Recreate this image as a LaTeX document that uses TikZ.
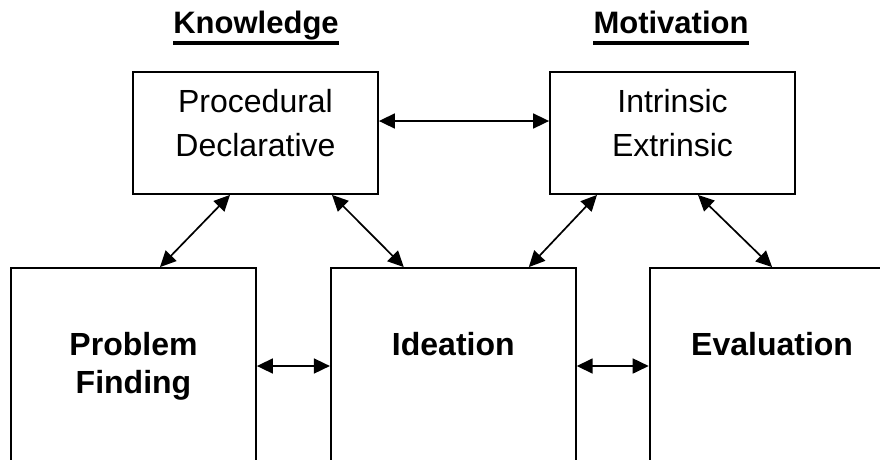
\documentclass[tikz,border=0pt]{standalone}
\usepackage{fontspec}
\setmainfont{Liberation Sans}
\usetikzlibrary{arrows.meta,positioning}

\tikzset{
  box/.style={draw, line width=1.8pt, minimum width=245pt, minimum height=122pt, inner sep=0pt},
  stage/.style={box, minimum height=196pt},
  boxtext/.style={align=center, font=\fontsize{32}{44}\selectfont},
  stagetext/.style={align=center, font=\fontsize{32}{38}\selectfont\bfseries},
  heading/.style={anchor=base, inner xsep=0pt, font=\fontsize{31}{38}\selectfont\bfseries},
  underline/.style={line width=3.5pt},
  link/.style={{Triangle[length=16pt,width=15pt]}-{Triangle[length=16pt,width=15pt]}, line width=1.7pt},
}

\begin{document}
\begin{tikzpicture}[x=1pt, y=-1pt]
  \clip (0,0) rectangle (880,459);

  % Define nodes
  \node[heading]                       (know-title)  at (256,33) {Knowledge};
  \node[heading]                       (motiv-title) at (671,33) {Motivation};
  \node[box]                           (know)        at (255.5,133) {};
  \node[box]                           (motiv)       at (672.5,133) {};
  \node[stage]                         (problem)     at (133.5,366) {};
  \node[stage, right=73pt of problem]  (ideation)    {};
  \node[stage, right=72pt of ideation] (evaluation)  {};

  % Texts in the boxes
  \node[boxtext]   (know-txt)       at ([yshift=10pt]know.center)       {Procedural\\Declarative};
  \node[boxtext]   (motiv-txt)      at ([yshift=10pt]motiv.center)      {Intrinsic\\Extrinsic};
  \node[stagetext] (problem-txt)    at (problem.center)                 {Problem\\Finding};
  \node[stagetext] (ideation-txt)   at ([yshift=22pt]ideation.center)   {Ideation};
  \node[stagetext] (evaluation-txt) at ([yshift=22pt]evaluation.center) {Evaluation};

  % Underline the headings
  \draw[underline] ([yshift=-10pt]know-title.base west) -- ([yshift=-10pt]know-title.base east);
  \draw[underline] ([yshift=-10pt]motiv-title.base west) -- ([yshift=-10pt]motiv-title.base east);

  % Connect the nodes
  \draw[link] ([yshift=12pt]know.east) -- ([yshift=12pt]motiv.west);
  \draw[link] ([xshift=26.5pt]problem.north) -- ([xshift=-25.5pt]know.south);
  \draw[link] ([xshift=76.5pt]know.south) -- ([xshift=-49.5pt]ideation.north);
  \draw[link] ([xshift=75.5pt]ideation.north) -- ([xshift=-75.5pt]motiv.south);
  \draw[link] ([xshift=25.5pt]motiv.south) -- (evaluation.north);
  \draw[link] (problem.east) -- (ideation.west);
  \draw[link] (ideation.east) -- (evaluation.west);

\end{tikzpicture}
\end{document}
